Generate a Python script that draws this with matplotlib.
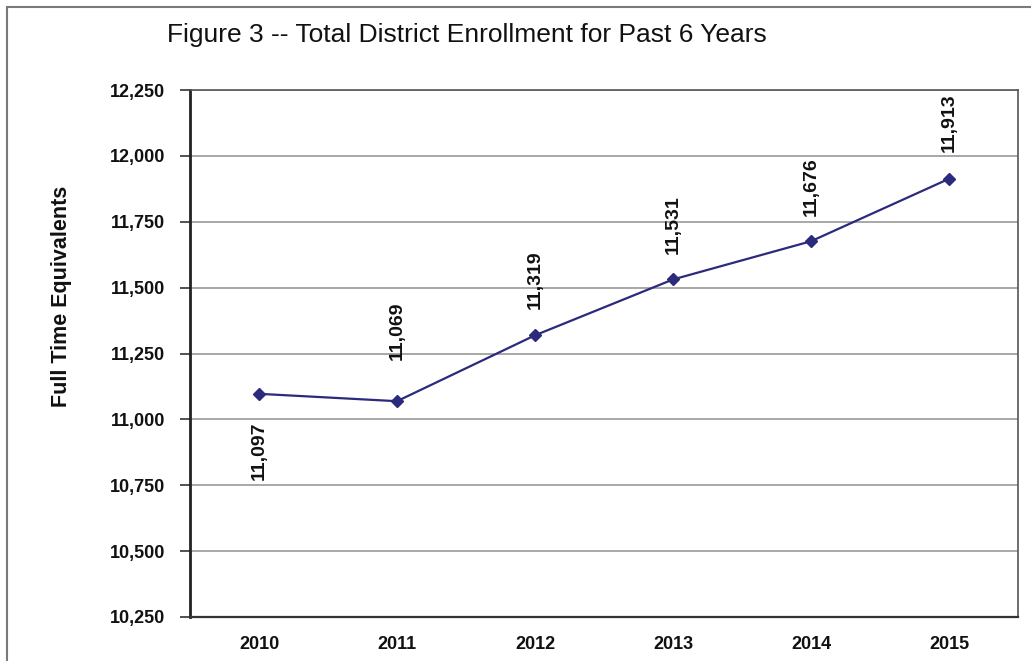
import matplotlib
matplotlib.use('Agg')
from matplotlib import pyplot as plt
from matplotlib.patches import Rectangle
from matplotlib.ticker import FuncFormatter

years = ['2010', '2011', '2012', '2013', '2014', '2015']
enrollment = [11097, 11069, 11319, 11531, 11676, 11913]
yticks = [10250, 10500, 10750, 11000, 11250, 11500, 11750, 12000, 12250]

# label offsets in points (negative = below the marker)
label_offsets = [-20, 30, 19, 18, 18, 19]

plt.rcParams['font.family'] = ['Liberation Sans', 'DejaVu Sans']

fig = plt.figure(figsize=(10.31, 6.61), dpi=100)
ax = fig.add_axes([190 / 1031, 1 - 617 / 661, 828 / 1031, 527 / 661])

# outer frame, cut off on the right and bottom like the scan
fig.patches.append(Rectangle((7 / 1031, -0.1), 1.2, 1.1 - 7 / 661,
                             transform=fig.transFigure, fill=False,
                             edgecolor='#7a7a7a', linewidth=1.5))

xs = list(range(len(years)))
ax.plot(xs, enrollment, color='#2b2a7c', linewidth=1.6, marker='D',
        markersize=6.5, markerfacecolor='#2b2a7c', markeredgecolor='#2b2a7c',
        zorder=3)

for x, v, off in zip(xs, enrollment, label_offsets):
    ax.annotate('{:,}'.format(v), (x, v), xytext=(0, off),
                textcoords='offset points', rotation=90, ha='center',
                va='top' if off < 0 else 'bottom', fontsize=14,
                fontweight='bold', color='#111111')

ax.set_xlim(-0.5, len(years) - 0.5)
ax.set_ylim(yticks[0], yticks[-1])
ax.set_yticks(yticks)
ax.yaxis.set_major_formatter(FuncFormatter(lambda v, p: '{:,.0f}'.format(v)))
ax.set_xticks(xs)
ax.set_xticklabels(years)
ax.grid(axis='y', color='#a8a8a8', linewidth=1.4)
ax.set_axisbelow(True)

for lab in ax.get_xticklabels() + ax.get_yticklabels():
    lab.set_fontweight('bold')
    lab.set_fontsize(13)
    lab.set_color('#111111')
ax.tick_params(axis='y', length=7, width=1.2, color='#333333', pad=11)
ax.tick_params(axis='x', length=0, pad=14)

ax.spines['left'].set_linewidth(2.0)
ax.spines['left'].set_color('#222222')
ax.spines['bottom'].set_linewidth(1.6)
ax.spines['bottom'].set_color('#333333')
ax.spines['top'].set_linewidth(1.2)
ax.spines['top'].set_color('#555555')
ax.spines['right'].set_linewidth(1.2)
ax.spines['right'].set_color('#555555')

fig.text(62 / 1031, 1 - 296 / 661, 'Full Time Equivalents', fontsize=15.5,
         fontweight='bold', rotation=90, ha='center', va='center',
         color='#111111')

fig.text(167 / 1031, 1 - 35 / 661, 'Figure 3 -- Total District Enrollment for Past 6 Years',
         fontsize=19, ha='left', va='center', color='#111111')

fig.savefig('out.png', dpi=100)
